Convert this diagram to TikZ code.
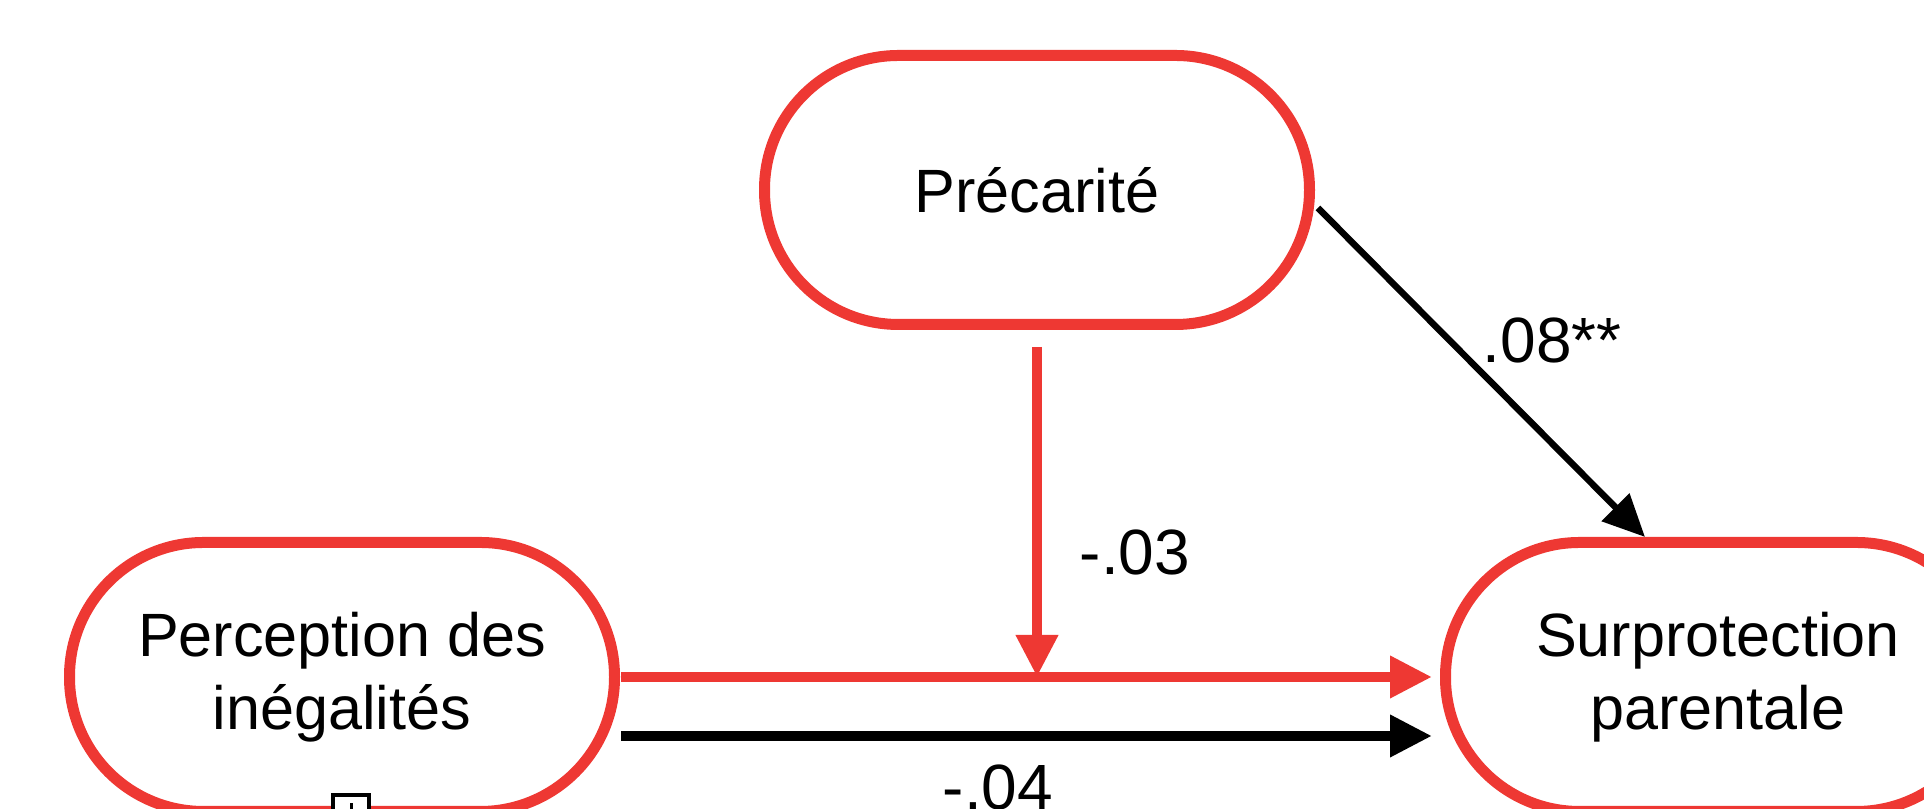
\documentclass[tikz,border=0pt]{standalone}
\usepackage{fontspec}
\setmainfont{Liberation Sans}
\usetikzlibrary{arrows.meta,calc}
\definecolor{boxred}{HTML}{EE3833}

\begin{document}
\begin{tikzpicture}[
	var/.style={draw=boxred,line width=.11cm,rounded corners=1.34cm,minimum width=5.45cm,minimum height=2.69cm,align=center,font=\fontsize{17.4}{20.9}\selectfont},
	coef/.style={inner sep=0pt,font=\fontsize{18.2}{21}\selectfont},
	redarrow/.style={draw=boxred,line width=.1cm,-{Triangle[length=.42cm,width=.4cm]}},
	blackarrow/.style={draw=black,line width=.1cm,-{Triangle[length=.42cm,width=.4cm]}},
	thinarrow/.style={draw=black,line width=.065cm,-{Triangle[length=.42cm,width=.38cm]}}
	]
	\useasboundingbox (0,0) rectangle (19.24,8.09);
	\clip (0,0) rectangle (19.24,8.09);
	\path
	(10.37,6.19) node[var] (prec) {Précarité}
	(3.42,1.32) node[var] (perc) {Perception des\\inégalités}
	(17.18,1.32) node[var] (surp) {Surprotection\\parentale}
	;
	\path
	($(perc.east)+(.01,0)$) coordinate (r1)
	($(surp.west)+(-.08,0)$) coordinate (r2)
	($(perc.east)+(.01,-.59)$) coordinate (b1)
	($(surp.west)+(-.08,-.59)$) coordinate (b2)
	(prec.south |- r1) coordinate (m)
	;
	\draw[redarrow] (r1)--(r2);
	\draw[blackarrow] (b1)--(b2);
	\draw[redarrow] ($(prec.south)+(0,-.17)$)--(m);
	\draw[thinarrow] ($(prec.east)+(.03,-.18)$)--($(surp.north)+(-.73,0)$);
	\node[coef] (c1) at (15.52,4.69) {.08**};
	\node[coef] (c2) at (11.35,2.57) {-.03};
	\node[coef] (c3) at (9.98,.22) {-.04};
	% little handle on the lower box
	\node[draw,fill=white,line width=.04cm,minimum size=.36cm,inner sep=0pt] (h) at (3.51,-.04) {};
	\draw[line width=.03cm] (h.center)--++(0,.1);
\end{tikzpicture}
\end{document}
